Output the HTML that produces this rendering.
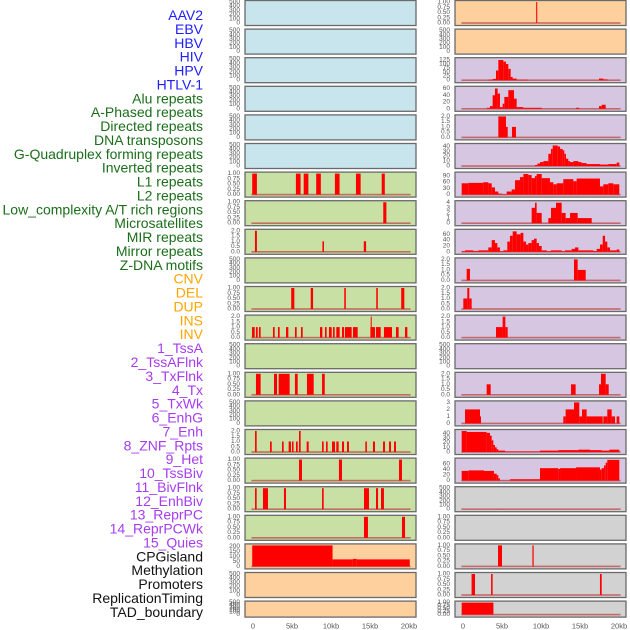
<!DOCTYPE html>
<html><head><meta charset="utf-8"><style>
html,body{margin:0;padding:0;background:#fff;}
svg{display:block;font-family:"Liberation Sans",sans-serif;}
</style></head><body>
<svg id="chart" width="630" height="630" viewBox="0 0 630 630"></svg>
<script>
const trackLabels=["AAV2","EBV","HBV","HIV","HPV","HTLV-1","Alu repeats","A-Phased repeats","Directed repeats","DNA transposons","G-Quadruplex forming repeats","Inverted repeats","L1 repeats","L2 repeats","Low_complexity A/T rich regions","Microsatellites","MIR repeats","Mirror repeats","Z-DNA motifs","CNV","DEL","DUP","INS","INV","1_TssA","2_TssAFlnk","3_TxFlnk","4_Tx","5_TxWk","6_EnhG","7_Enh","8_ZNF_Rpts","9_Het","10_TssBiv","11_BivFlnk","12_EnhBiv","13_ReprPC","14_ReprPCWk","15_Quies","CPGisland","Methylation","Promoters","ReplicationTiming","TAD_boundary"];
const labelGroups=[6,13,5,15,5];
const groupColors=["#2020ff","#1a6e1a","#ffa500","#a63cf0","#111111"];
const xTickLabels=["0","5kb","10kb","15kb","20kb"];
const xTickValues=[0,5,10,15,20];
const T500=["0","100","200","300","400","500"],T1=["0.00","0.25","0.50","0.75","1.00"],T2=["0.0","0.5","1.0","1.5","2.0"];
const leftBg=["b","b","b","b","b","b","g","g","g","g","g","g","g","g","g","g","g","g","g","o","o","o"];
const rightBg=["o","o","p","p","p","p","p","p","p","p","p","p","p","p","p","p","p","y","y","y","y","y"];
const leftTicks=[T500,T500,T500,T500,T500,T500,T1,T1,T2,T500,T1,T2,T500,T1,T500,T2,T1,T1,T1,["0","50","100","150","200"],T500,T500];
const leftMax=[500,500,500,500,500,500,1,1,2,500,1,2,500,1,500,2,1,1,1,210,500,500];
const rightTicks=[T1,T500,["0","25","50","75","100","125"],["0","20","40","60"],T2,["0","10","20","30","40"],["0","30","60","90"],["0","1","2","3","4"],["0","20","40","60"],T2,T2,T2,T500,T2,["0","1","2","3"],["0","10","20","30","40"],["0","20","40","60"],T500,T1,T1,T1,T1];
const rightMax=[1,500,130,62,2,43,102,4.1,72,2,2,2,500,2,3,45,76,500,1,1,1,1];
const leftBars=[[],[],[],[],[],[],
[[-0.1,0.5,1],[5.5,6.1,1],[6.5,7.1,1],[8.1,8.7,1],[10.5,11.1,1],[13.2,13.8,1],[16.5,16.9,1]],
[[16.7,17.1,1]],
[[0.25,0.5,2],[8.9,9.1,1],[14.2,14.5,1]],
[],
[[4.9,5.3,1],[7.4,7.7,1],[11.7,11.9,1],[15.8,16.0,1],[19.0,19.4,1]],
[[-0.13,0.22,1],[0.38,0.6,1],[0.77,0.98,1],[2.56,2.78,1],[3.2,3.42,1],[4.23,4.53,1],[5.38,5.6,1],[6.15,6.37,1],[8.59,8.89,1],[9.23,9.44,1],[9.74,10.09,1],[10.26,10.47,1],[10.68,11.11,1],[11.41,11.67,1],[11.79,12.65,1],[12.82,13.42,1],[15.05,15.64,1],[15.09,15.21,2],[15.77,16.37,1],[16.79,17.82,1],[18.33,18.67,1],[19.49,19.79,1]],
[],
[[0.38,0.98,1],[2.69,3.08,1],[3.29,4.7,1],[5.38,5.73,1],[6.92,7.78,1],[8.85,9.2,1]],
[],
[[0.26,0.47,2],[2.18,2.4,1],[3.72,3.93,1],[4.57,4.87,1],[5.0,5.2,1],[5.51,5.73,1],[5.9,6.11,2],[6.88,7.14,1],[8.85,9.06,1],[9.36,9.57,1],[10.13,10.51,1],[10.68,10.98,1],[11.41,11.67,1],[12.05,12.3,1],[14.4,14.6,1],[15.38,15.64,1],[16.67,16.92,1],[17.44,17.69,1],[18.08,18.33,1]],
[[5.9,6.28,1],[11.02,11.41,1],[18.72,19.1,1]],
[[0.26,0.47,1],[1.28,1.92,1],[3.97,4.23,1],[8.85,9.06,1],[14.23,14.87,1],[15.77,16.03,1],[16.41,16.79,1]],
[[14.23,14.74,1],[19.1,19.49,1]],
[[-0.1,10.2,210],[10.2,12.8,70],[12.8,13.3,75],[13.3,20.1,70]],
[],[]];
const rightBars=[
[[9.38,9.52,1]],
[],
[[3.25,3.8,3],[3.8,4.23,8],[4.23,4.53,60],[4.53,5.17,125],[5.17,5.51,115],[5.51,5.81,100],[5.81,6.11,70],[6.11,6.37,20],[6.37,6.88,10],[6.88,8.29,3],[17.44,18.0,10],[18.0,18.55,5]],
[[3.03,3.46,3],[3.46,3.8,8],[3.8,4.1,40],[4.1,4.44,60],[4.44,4.74,45],[4.74,5.08,5],[5.08,5.3,15],[5.3,5.81,35],[5.81,6.54,55],[6.54,6.88,30],[6.88,7.74,5],[7.74,10.09,3],[14.49,14.91,3],[17.44,17.78,8],[17.78,18.29,12]],
[[4.53,5.51,2],[5.51,5.73,1],[6.28,6.79,1]],
[[9.23,9.53,2],[9.53,9.87,5],[9.87,10.3,8],[10.3,10.94,10],[10.94,11.28,25],[11.28,11.5,35],[11.5,12.14,42],[12.14,12.44,40],[12.44,12.78,35],[12.78,12.99,32],[12.99,13.2,25],[13.2,13.5,15],[13.5,13.72,10],[13.72,14.15,8],[14.15,14.79,10],[14.79,15.21,8],[15.21,15.85,6],[15.85,17.56,4],[17.56,18.63,3],[18.63,19.7,4],[19.7,20.04,7]],
[[-0.17,0.68,55],[0.68,2.61,57],[2.61,3.25,60],[3.25,3.68,55],[3.68,4.1,35],[4.1,4.53,15],[4.53,4.96,5],[4.96,5.6,2],[5.6,6.24,15],[6.24,6.67,25],[6.67,7.31,70],[7.31,7.74,85],[7.74,8.38,100],[8.38,8.8,95],[8.8,9.23,80],[9.23,9.44,90],[9.44,10.09,100],[10.09,11.15,80],[11.15,11.58,60],[11.58,12.01,50],[12.01,12.86,55],[12.86,14.15,75],[14.15,14.57,65],[14.57,17.56,78],[17.56,17.99,40],[17.99,18.63,50],[18.63,19.27,55],[19.27,20.04,50]],
[[8.8,9.23,3],[9.23,9.44,4],[9.44,10.09,2],[10.94,11.28,1],[11.28,11.92,3],[11.92,12.65,4],[12.65,13.16,2],[13.16,13.72,1],[13.72,14.7,2],[14.7,16.5,1]],
[[-0.17,0.26,2],[0.26,1.32,5],[1.32,1.97,3],[1.97,3.25,5],[3.25,3.68,15],[3.68,4.1,40],[4.1,4.4,30],[4.4,4.74,15],[4.74,5.17,2],[5.17,5.68,5],[5.68,6.02,35],[6.02,6.37,55],[6.37,6.88,70],[6.88,7.39,60],[7.39,7.74,65],[7.74,8.08,35],[8.08,8.38,25],[8.38,8.8,30],[8.8,9.1,40],[9.1,9.44,45],[9.44,9.74,30],[9.74,10.09,20],[10.09,10.73,5],[10.73,11.28,2],[11.28,12.65,5],[12.65,13.08,2],[13.08,13.93,5],[13.93,14.36,10],[14.36,14.79,15],[14.79,16.71,5],[16.71,17.14,3],[17.14,17.56,10],[17.56,17.91,25],[17.91,18.21,55],[18.21,18.5,35],[18.5,18.85,15],[18.85,19.7,5],[19.7,20.04,8]],
[[0.47,0.89,1.1],[14.23,14.7,2],[14.7,15.73,1]],
[[0.04,0.55,1],[0.55,0.81,2],[0.81,1.11,1]],
[[4.23,5.08,1],[5.08,5.43,2],[5.43,5.73,1]],
[],
[[3.03,3.55,1],[13.85,14.44,1],[17.44,17.69,1],[17.69,18.29,2],[18.29,18.68,1]],
[[0.26,2.18,2],[2.18,2.31,1],[12.86,13.16,1],[13.16,14.23,2],[14.23,14.91,3],[14.91,15.26,1],[15.26,15.85,2],[15.85,17.91,1],[17.99,18.5,1],[18.5,19.06,2],[19.06,19.49,1],[19.7,20.04,1]],
[[-0.17,0.47,45],[0.47,3.03,43],[3.03,3.46,41],[3.46,3.68,35],[3.68,3.89,25],[3.89,4.1,15],[4.1,4.32,10],[4.32,4.53,6],[4.53,5.38,3],[5.38,9.87,1],[9.87,12.22,3],[12.22,14.79,4],[14.79,16.28,5],[16.28,17.78,4],[17.78,18.76,3],[18.76,20.04,5]],
[[-0.17,0.68,35],[0.68,2.69,37],[2.69,3.97,35],[3.97,4.32,25],[4.32,4.53,20],[4.53,4.74,8],[4.74,6.02,0.5],[6.02,9.87,5],[9.87,12.22,45],[12.22,12.44,42],[12.44,14.49,45],[14.49,17.56,48],[17.56,17.78,40],[17.78,18.08,45],[18.08,18.29,55],[18.29,18.5,65],[18.5,20.04,75]],
[[4.5,5.2,1]],
[],
[[4.49,5.0,1],[8.9,9.06,1]],
[[1.1,1.54,1],[3.6,3.8,1],[17.56,17.78,1]],
[[-0.17,3.9,1]]];

const NS="http://www.w3.org/2000/svg";
const svg=document.getElementById("chart");
const bgColor={b:"#c8e4ec",g:"#c8e0a4",o:"#fdd09e",p:"#d6c6e2",y:"#d2d2d2"};
function mk(tag,attrs,parent){const e=document.createElementNS(NS,tag);for(const k in attrs)e.setAttribute(k,attrs[k]);(parent||svg).appendChild(e);return e;}
function rowTop(i){return i===0?0.5:0.5+28.6*i;}
function rowH(i){return i===21?16:25;}
function xScale(col,kb){return (col===0?253:463)+kb*7.8;}

// labels
let k=0;
labelGroups.forEach((n,g)=>{for(let j=0;j<n;j++){
  const t=mk("text",{x:203,y:15+13.88*k,"text-anchor":"end","dominant-baseline":"central","font-size":"14",fill:groupColors[g]});
  
  
  t.textContent=trackLabels[k];k++;}});

function panel(col,i,bg,ticks,ymax,bars){
  const x0=col===0?245:455,w=171,top=rowTop(i),h=rowH(i);
  const g=mk("g",{});
  
  
  mk("rect",{x:x0,y:top,width:w,height:h,fill:bgColor[bg]},g);
  const y0=top+h-2.5,y1=top+1.5;
  const ys=v=>y0-(v/ymax)*(y0-y1);
  const hasData=bars.length>0;
  if(hasData){mk("rect",{x:xScale(col,-0.2),y:y0-0.8,width:20.4*7.8,height:1.6,fill:"#c05050",opacity:"0.8"},g);}
  bars.forEach(b=>{
    const xa=xScale(col,b[0]),xb=xScale(col,b[1]),yv=ys(b[2]);
    const r=mk("rect",{x:xa,y:yv,width:Math.max(xb-xa,1),height:Math.max(y0-yv,0),fill:"#ff0000"},g);
    
    
  });
  mk("rect",{x:x0,y:top,width:w,height:h,fill:"none",stroke:"#6a6a6a","stroke-width":"1.3"},g);
  const tmax=parseFloat(ticks[ticks.length-1]);
  ticks.forEach(t=>{
    const v=parseFloat(t);
    const tx=mk("text",{x:x0-5,y:ys(v*Math.min(1,ymax/tmax)*(tmax/ymax)*(ymax/tmax)),"text-anchor":"end","dominant-baseline":"central","font-size":"6.5",fill:"#555"},g);
    
    
    tx.textContent=t;
  });
}
for(let i=0;i<22;i++){
  panel(0,i,leftBg[i],leftTicks[i],leftMax[i],leftBars[i]);
  panel(1,i,rightBg[i],rightTicks[i],rightMax[i],rightBars[i]);
}
[0,1].forEach(col=>{xTickValues.forEach((v,j)=>{
  const t=mk("text",{x:xScale(col,v),y:626,"text-anchor":"middle","dominant-baseline":"central","font-size":"7.5",fill:"#555"});
  
  
  t.textContent=xTickLabels[j];
});});
</script>
</body></html>
